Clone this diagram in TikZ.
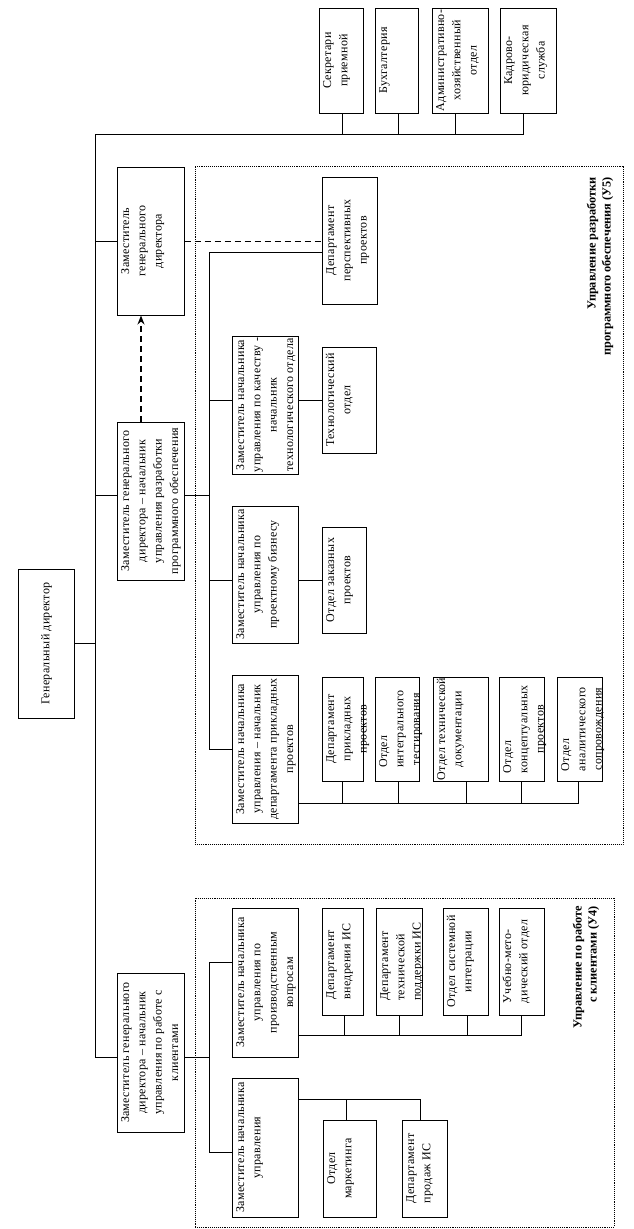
\documentclass[tikz,border=0pt]{standalone}
\usepackage{fontspec}
\setmainfont{Liberation Serif}[LetterSpace=2.5]
\newfontfamily\lblfont{Liberation Serif}
\usetikzlibrary{arrows.meta}
\newcommand\rt[1]{\rotatebox{90}{\begin{tabular}{@{}c@{}}#1\end{tabular}}}
\newcommand\rtl[1]{\rotatebox{90}{\begin{tabular}{@{}l@{}}#1\end{tabular}}}
\newcommand\rtr[1]{\rotatebox{90}{\begin{tabular}{@{}r@{}}#1\end{tabular}}}
\newcommand\ml[1]{\multicolumn{1}{@{}l@{}}{#1}}
\newcommand\bx[7][west]{%
  \node[box, minimum width={#5-#3}, minimum height={#6-#4}] (#2) at ({(#3+#5)/2},{(#4+#6)/2}) {};%
  \node[txt, anchor=#1] (#2t) at (#2.#1) {#7};}
\begin{document}
\begin{tikzpicture}[x=1pt,y=-1pt,
  box/.style={draw, line width=1pt, inner sep=0pt, rectangle},
  txt/.style={inner sep=1pt, font=\fontsize{12}{16.3}\selectfont},
  lbl/.style={inner sep=0pt, font=\lblfont\fontsize{12.3}{15}\selectfont\bfseries},
  con/.style={line width=1pt},
  frm/.style={draw, densely dotted, line width=0.9pt, inner sep=0pt, rectangle},
  dsh/.style={line width=1pt, dash pattern=on 6pt off 4pt},
]
\useasboundingbox (0,0) rectangle (633,1229);

% frames
\node[frm, minimum width=428, minimum height=678] (u5) at (409,505) {};
\node[frm, minimum width=419, minimum height=329] (u4) at (404.5,1062.5) {};
\node[lbl, anchor=north west] (u5l) at (585,177) {\rtr{Управление разработки\\программного обеспечения (У5)}};
\node[lbl, anchor=north west] (u4l) at (571,906) {\rtr{Управление по работе\\с клиентами (У4)}};

% boxes
\bx[center]{gd}{18}{569}{74}{718}{\rt{Генеральный директор}}
\bx{sec}{319}{8}{363}{113}{\rt{Секретари\\приемной}}
\bx{buh}{375}{8}{418}{113}{\rt{Бухгалтерия}}
\bx{adm}{432}{8}{488}{113}{\rt{Административно-\\хозяйственный\\отдел}}
\bx{kad}{500}{8}{556}{113}{\rt{Кадрово-\\юридическая\\служба}}

\bx{zgd}{117}{167}{184}{315}{\rt{Заместитель\\генерального\\директора}}
\bx{rpo}{117}{422}{184}{580}{\rt{Заместитель генерального\\директора – начальник\\управления разработки\\программного обеспечения}}
\bx{cli}{117}{973}{184}{1132}{\rt{Заместитель генерального\\директора – начальник\\управления по работе с\\клиентами}}

\bx{per}{322}{177}{377}{304}{\rt{Департамент\\перспективных\\проектов}}
\bx{qua}{232}{336}{298}{474}{\rt{Заместитель начальника\\управления по качеству -\\начальник\\технологического отдела}}
\bx{tex}{322}{347}{376}{453}{\rt{Технологический\\отдел}}
\bx{proj}{232}{506}{298}{643}{\rt{Заместитель начальника\\управления по\\проектному бизнесу}}
\bx{zak}{322}{527}{366}{633}{\rt{Отдел заказных\\проектов}}
\bx{dpp}{232}{675}{298}{823}{\rt{Заместитель начальника\\управления – начальник\\департамента прикладных\\проектов}}
\bx{ca}{322}{677}{363}{781}{\rt{Департамент\\прикладных\\проектов}}
\bx{cb}{375}{677}{419}{781}{\rt{\ml{Отдел}\\интегрального\\тестирования}}
\bx{cc}{433}{677}{488}{781}{\rt{Отдел технической\\документации}}
\bx{cd}{499}{677}{544}{781}{\rt{\ml{Отдел}\\концептуальных\\проектов}}
\bx{ce}{557}{677}{602}{781}{\rt{\ml{Отдел}\\аналитического\\сопровождения}}

\bx{prod}{232}{908}{298}{1057}{\rt{Заместитель начальника\\управления по\\производственным\\вопросам}}
\bx{da}{322}{908}{363}{1015}{\rtl{Департамент\\внедрения ИС}}
\bx{db}{376}{908}{422}{1015}{\rtl{Департамент\\технической\\поддержки ИС}}
\bx{dc}{443}{908}{488}{1015}{\rt{Отдел системной\\интеграции}}
\bx{dd}{499}{908}{544}{1015}{\rtl{Учебно-мето-\\дический отдел}}
\bx{upr}{232}{1078}{298}{1217}{\rt{Заместитель начальника\\управления}}
\bx{ma}{323}{1120}{376}{1217}{\rt{Отдел\\маркетинга}}
\bx{mb}{402}{1120}{447}{1217}{\rtl{Департамент\\продаж ИС}}

% main spine
\coordinate (sp0) at (95,134);
\coordinate (sp1) at (95,1057);
\draw[con] (sp0) -- (sp1);
\draw[con] (sp0) -- ([xshift=-5pt]kad.south |- sp0) -- ([xshift=-5pt]kad.south);
\draw[con] ([xshift=1pt]sec.south) -- ([xshift=1pt]sec.south |- sp0);
\draw[con] ([xshift=1.5pt]buh.south) -- ([xshift=1.5pt]buh.south |- sp0);
\draw[con] ([xshift=-5pt]adm.south) -- ([xshift=-5pt]adm.south |- sp0);
\draw[con] (gd.east) -- (gd.east -| sp0);
\draw[con] (zgd.west) -- (zgd.west -| sp0);
\draw[con] ([yshift=6pt]rpo.west) -- ([yshift=6pt]rpo.west -| sp0);
\draw[con] (sp1) -- (cli.west |- sp1);

% U5 spine
\coordinate (a0) at (209,252);
\coordinate (a1) at (209,749);
\draw[con] (per.west |- a0) -- (a0) -- (a1) -- (dpp.west |- a1);
\draw[con] ([yshift=5pt]qua.west) -- ([yshift=5pt]qua.west -| a0);
\draw[con] ([yshift=6pt]rpo.east) -- ([yshift=6pt]rpo.east -| a0);
\draw[con] ([yshift=-5.5pt]proj.west) -- ([yshift=-5.5pt]proj.west -| a0);
\draw[con] (qua.east |- tex.west) -- (tex.west);
\draw[con] (proj.east |- zak.west) -- (zak.west);
\coordinate (bus5) at ([yshift=-54pt]dpp.east);
\draw[con] (bus5) -| ([xshift=-1.5pt]ce.south);
\draw[con] (ca.south) -- (ca.south |- bus5);
\draw[con] ([xshift=1pt]cb.south) -- ([xshift=1pt]cb.south |- bus5);
\draw[con] ([xshift=6pt]cc.south) -- ([xshift=6pt]cc.south |- bus5);
\draw[con] (cd.south) -- (cd.south |- bus5);

% U4 spine
\coordinate (q0) at (209,962);
\coordinate (q1) at (209,1152);
\draw[con] (cli.east |- sp1) -- (sp1 -| q0);
\draw[con] (prod.west |- q0) -- (q0) -- (q1) -- (upr.west |- q1);
\coordinate (bus4) at ([yshift=-52.5pt]prod.east);
\draw[con] (bus4) -| (dd.south);
\draw[con] ([xshift=2pt]da.south) -- ([xshift=2pt]da.south |- bus4);
\draw[con] (db.south) -- (db.south |- bus4);
\draw[con] ([xshift=1.5pt]dc.south) -- ([xshift=1.5pt]dc.south |- bus4);
\coordinate (bus3) at ([yshift=48.5pt]upr.east);
\draw[con] (bus3) -| ([xshift=-4.5pt]mb.north);
\draw[con] ([xshift=-3.5pt]ma.north) -- ([xshift=-3.5pt]ma.north |- bus3);

% dashed links
\draw[dsh] (zgd.east) -- (per.west |- zgd.east);
\draw[dsh, line width=1.6pt, -{Stealth[length=9pt,width=7pt]}] ([xshift=-9.5pt]rpo.north) -- ([xshift=-9.5pt]zgd.south);
\end{tikzpicture}
\end{document}
